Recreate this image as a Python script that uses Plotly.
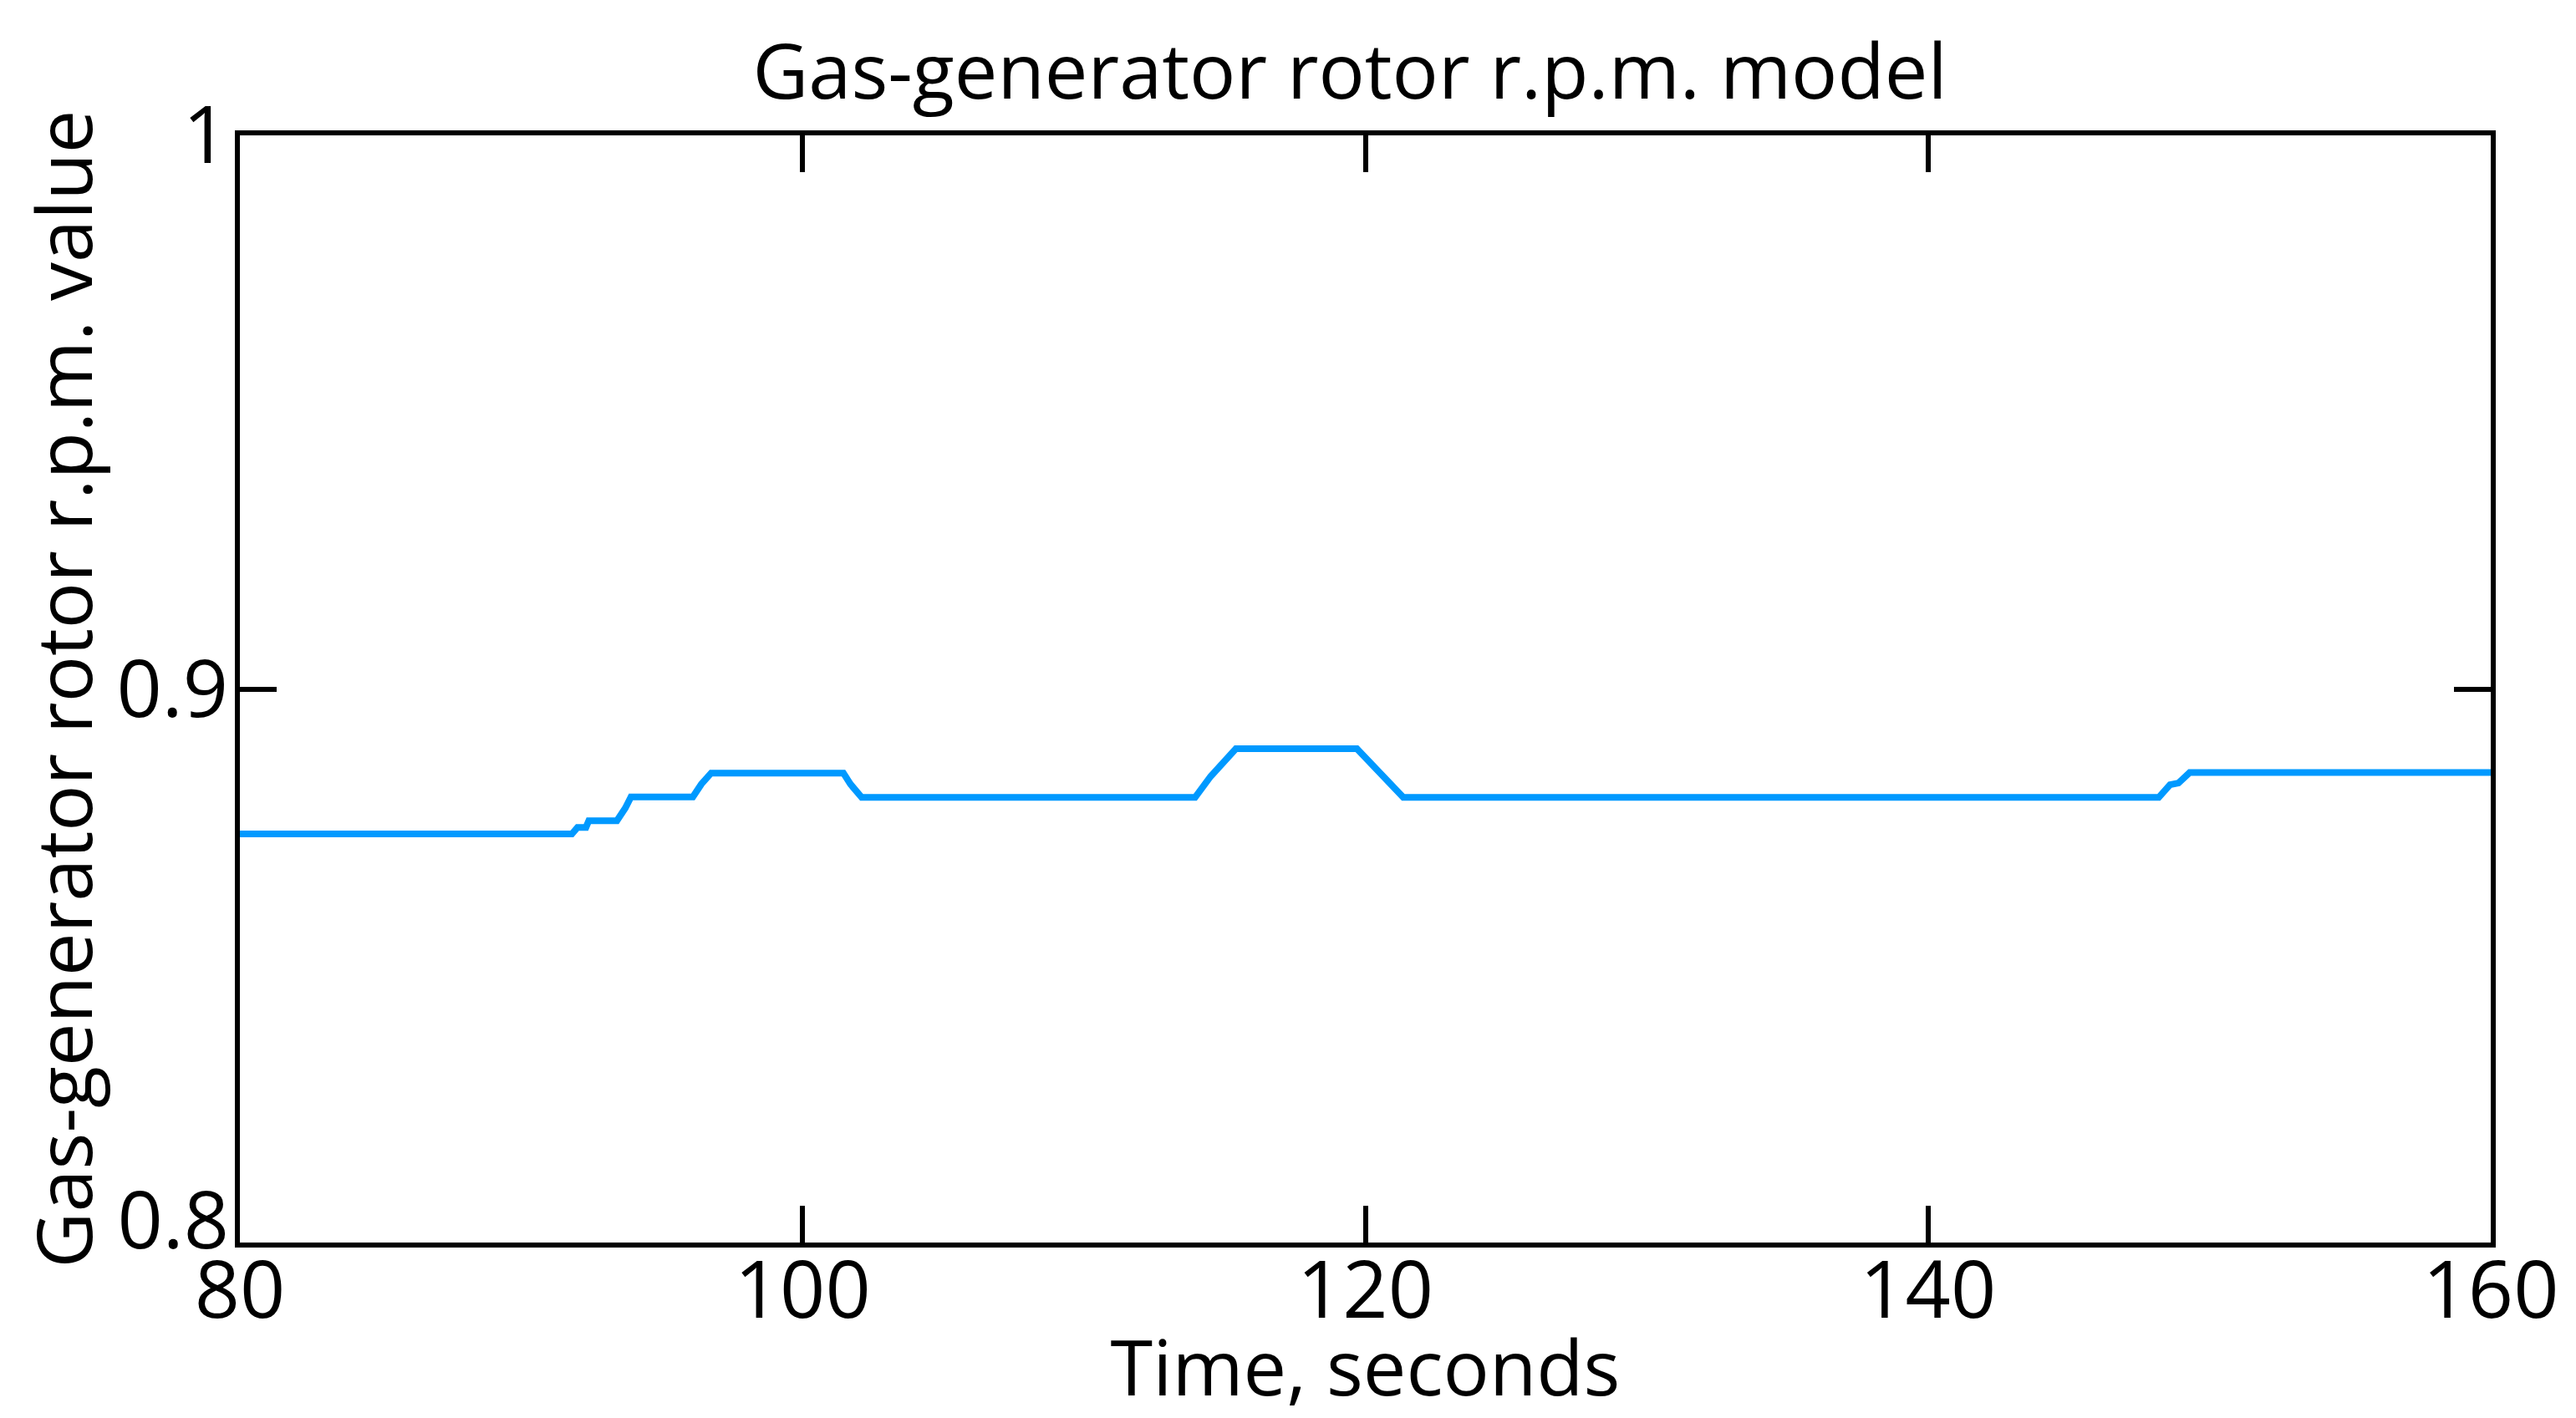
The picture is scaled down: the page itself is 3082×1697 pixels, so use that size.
import plotly.graph_objects as go

# Data
time_s = [80, 91.8, 92.0, 92.3, 92.4, 93.4, 93.7, 93.9, 96.1, 96.4, 96.75,
          101.45, 101.7, 102.1, 113.95, 114.5, 115.4, 119.7, 121.35,
          148.2, 148.6, 148.9, 149.3, 160]
rpm = [0.8738, 0.8738, 0.8750, 0.8750, 0.8762, 0.8762, 0.8785, 0.8805, 0.8805, 0.8828, 0.8848,
       0.8848, 0.8828, 0.8804, 0.8804, 0.8842, 0.8892, 0.8892, 0.8804,
       0.8804, 0.8827, 0.8830, 0.8849, 0.8849]

x_ticks = [80, 100, 120, 140, 160]
x_tick_labels = ["80", "100", "120", "140", "160"]
y_ticks = [0.9, 1.0]
y_tick_labels = ["0.9", "1"]
y_bottom_tick = [0.8]
y_bottom_label = ["0.8"]

FONT = "Open Sans"
TICK_SIZE = 95
LABEL_SIZE = 92
W, H = 3074, 1689   # page body keeps an 8px default margin

fig = go.Figure()
fig.add_trace(go.Scatter(x=time_s, y=rpm, mode="lines",
                         line=dict(color="#0099FF", width=8),
                         showlegend=False, hoverinfo="skip"))
# empty trace so that the secondary y axis (bottom "0.8" label) is drawn
fig.add_trace(go.Scatter(x=[], y=[], yaxis="y2", showlegend=False,
                         hoverinfo="skip"))

axis_common = dict(showline=True, linecolor="black", linewidth=6,
                   ticks="inside", ticklen=44, tickwidth=6, tickcolor="black",
                   showgrid=False, zeroline=False,
                   tickfont=dict(family=FONT, size=TICK_SIZE, color="black"))

fig.update_layout(
    width=W, height=H,
    margin=dict(l=279, r=102, t=154, b=210, autoexpand=False),
    paper_bgcolor="white", plot_bgcolor="white",
    title=dict(text="Gas-generator rotor r.p.m. model",
               font=dict(family=FONT, size=LABEL_SIZE, color="black"),
               x=1607 / W, xanchor="center", y=1 - 78 / H, yanchor="middle",
               xref="container", yref="container"),
    xaxis=dict(range=[80, 160], tickvals=x_ticks, ticktext=x_tick_labels,
               mirror="ticks", ticklabelstandoff=-30,
               title=dict(text="Time, seconds", standoff=0,
                          font=dict(family=FONT, size=LABEL_SIZE, color="black")),
               automargin=False, **axis_common),
    yaxis=dict(range=[0.8, 1.0], tickvals=y_ticks, ticktext=y_tick_labels,
               mirror="ticks", ticklabelstandoff=-11,
               title=dict(text="Gas-generator rotor r.p.m. value", standoff=0,
                          font=dict(family=FONT, size=LABEL_SIZE, color="black")),
               automargin=False, **axis_common),
    yaxis2=dict(range=[0.8, 1.0], overlaying="y", anchor="x", side="left",
                tickvals=y_bottom_tick, ticktext=y_bottom_label,
                ticklabelshift=-26, ticklabelstandoff=12,
                showline=False, ticks="", showgrid=False,
                zeroline=False, automargin=False,
                tickfont=dict(family=FONT, size=TICK_SIZE, color="black")),
)

fig.write_html("out.html")
